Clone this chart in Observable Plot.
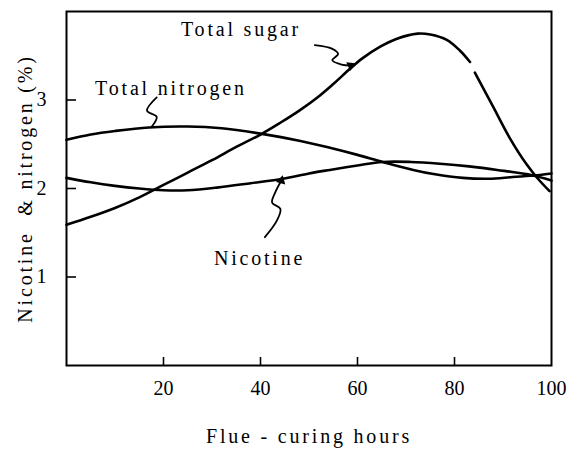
<!DOCTYPE html>
<html><head><meta charset="utf-8">
<script src="https://cdn.jsdelivr.net/npm/d3@7"></script>
<script src="https://cdn.jsdelivr.net/npm/@observablehq/plot@0.6"></script>
<style>
body{margin:0;background:#fff}
svg{display:block}
g[aria-label="text"] text{letter-spacing:2.8px}
</style>
</head><body><div id="chart"></div>
<script>
// Flue-curing hours (x) and percentage values (y)
const sugarHours  = [0, 5, 10, 15, 20, 25, 30, 35, 40, 44, 48, 52, 55, 58.4, 61, 64.6, 68, 72.4, 75, 78.4, 81.1, 83.2, 83.7, 84.2, 87.9, 91.4, 94.9, 97.2, 99.6];
const sugarValues = [1.59, 1.68, 1.78, 1.90, 2.04, 2.18, 2.32, 2.47, 2.61, 2.74, 2.88, 3.04, 3.18, 3.35, 3.47, 3.60, 3.69, 3.75, 3.74, 3.68, 3.56, 3.43, null, 3.31, 2.93, 2.57, 2.27, 2.11, 1.97];

const nitrogenHours  = [0, 5, 10, 17, 25, 32, 40, 48, 54.3, 60, 65.2, 71.5, 76, 81.7, 87, 92, 97, 100];
const nitrogenValues = [2.55, 2.61, 2.65, 2.69, 2.70, 2.68, 2.62, 2.54, 2.46, 2.38, 2.30, 2.21, 2.16, 2.12, 2.11, 2.13, 2.15, 2.17];

const nicotineHours  = [0, 5, 10, 15, 20, 25, 31, 38, 44.6, 50, 54.3, 60, 65.2, 71, 77, 83, 88.8, 96, 100];
const nicotineValues = [2.12, 2.07, 2.03, 2.00, 1.98, 1.98, 2.01, 2.06, 2.11, 2.17, 2.21, 2.26, 2.30, 2.30, 2.28, 2.25, 2.21, 2.15, 2.09];

// annotation leader squiggles (data units)
const sugarLeadX = [51.2, 54.7, 56.0, 54.8, 56.7, 58.6];
const sugarLeadY = [3.62, 3.58, 3.52, 3.45, 3.40, 3.39];
const nitrogenLeadX = [18.6, 16.6, 18.6, 17.6];
const nitrogenLeadY = [3.03, 2.88, 2.81, 2.70];
const nicotineLeadX = [40.9, 43.4, 44.1, 42.4, 43.0, 44.3];
const nicotineLeadY = [1.45, 1.64, 1.77, 1.84, 1.95, 2.09];

const labelTexts = ["Total sugar", "Total nitrogen", "Nicotine"];
const labelX = [23.6, 5.9, 30.4];
const labelY = [3.79, 3.13, 1.21];

const xTicks = [20, 40, 60, 80, 100];
const xTickMarks = [20, 40, 60, 80];
const yTicks = [1, 2, 3];
const xTitle = "Flue - curing hours";
const yTitle = "Nicotine  & nitrogen (%)";

const rows = (xs, ys) => xs.map((x, i) => ({x, y: ys[i]}));
const sugar = rows(sugarHours, sugarValues);
const nitrogen = rows(nitrogenHours, nitrogenValues);
const nicotine = rows(nicotineHours, nicotineValues);
const labels = labelTexts.map((t, i) => ({t, x: labelX[i], y: labelY[i]}));
const tips = [
  {x: sugarLeadX[5], y: sugarLeadY[5], r: 65},
  {x: nicotineLeadX[5], y: nicotineLeadY[5], r: 15}
];

const curveOpts = {x: "x", y: "y", curve: "catmull-rom", stroke: "#000", strokeWidth: 2.6};
const leadOpts = {x: "x", y: "y", curve: "catmull-rom", stroke: "#000", strokeWidth: 1.8};

const chart = Plot.plot({
  width: 568,
  height: 455,
  marginLeft: 66,
  marginRight: 17,
  marginTop: 11,
  marginBottom: 90,
  style: {fontFamily: "'Liberation Serif', serif", fontSize: "20px", color: "#000", background: "#fff"},
  x: {domain: [0, 100], label: null},
  y: {domain: [0, 4], label: null},
  marks: [
    Plot.frame({stroke: "#000", strokeWidth: 2}),
    Plot.axisX({ticks: xTickMarks, tickSize: -8, tickFormat: () => "", strokeWidth: 1.6, label: null}),
    Plot.axisX({ticks: xTicks, tickSize: 0, tickPadding: 15, tickFormat: d => String(d), fontSize: 20, label: null}),
    Plot.axisY({ticks: yTicks, tickSize: -10, tickFormat: () => "", strokeWidth: 1.6, label: null}),
    Plot.axisY({ticks: yTicks, tickSize: 0, tickPadding: 20, tickFormat: d => String(d), fontSize: 20, label: null}),
    Plot.line(sugar, curveOpts),
    Plot.line(nitrogen, curveOpts),
    Plot.line(nicotine, curveOpts),
    Plot.line(rows(sugarLeadX, sugarLeadY), leadOpts),
    Plot.line(rows(nitrogenLeadX, nitrogenLeadY), leadOpts),
    Plot.line(rows(nicotineLeadX, nicotineLeadY), leadOpts),
    Plot.dot(tips, {x: "x", y: "y", symbol: "triangle", r: 3.5, fill: "#000", rotate: "r"}),
    Plot.text(labels, {x: "x", y: "y", text: "t", textAnchor: "start", fontSize: 20, fill: "#000"}),
    Plot.text([xTitle], {frameAnchor: "bottom", textAnchor: "middle", dy: 77, fontSize: 20, fill: "#000"}),
    Plot.text([yTitle], {frameAnchor: "left", textAnchor: "middle", dx: -41, rotate: -90, fontSize: 20, fill: "#000"})
  ]
});
document.getElementById("chart").appendChild(chart);
</script>
</body></html>
